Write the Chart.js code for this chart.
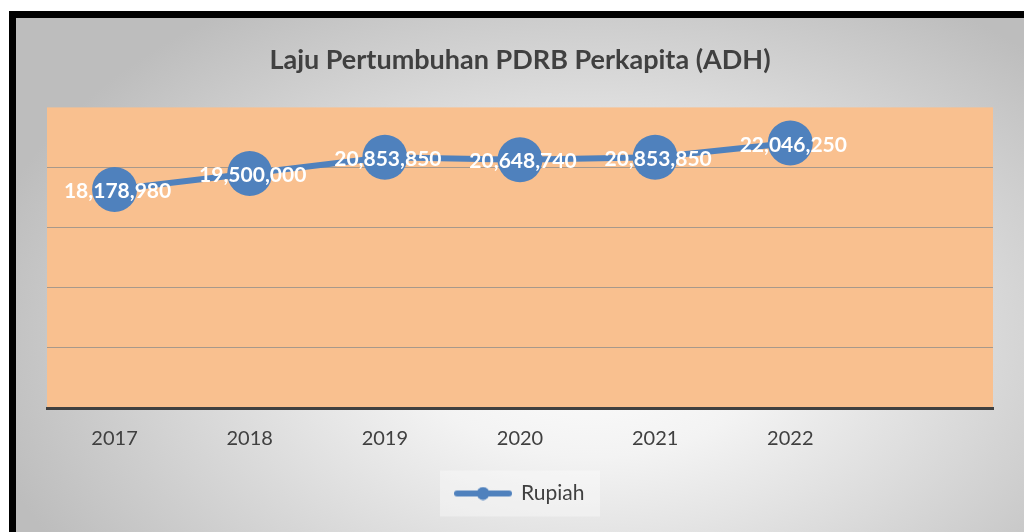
<!DOCTYPE html>
<html>
<head>
<meta charset="utf-8">
<script src="https://cdn.jsdelivr.net/npm/chart.js@4/dist/chart.umd.min.js"></script>
<style>
    html, body { margin: 0; padding: 0; background: #ffffff; }
    #frame {
        position: absolute;
        left: 9px;
        top: 11px;
        width: 1008px;
        height: 514px;
        border-top: 7px solid #000;
        border-left: 7px solid #000;
        background: radial-gradient(ellipse 62% 78% at 57% 62%, #ffffff 0%, #f3f3f3 30%, #bdbdbd 100%);
    }
    #frame canvas { display: block; }
</style>
</head>
<body>
<div id="frame"><canvas id="pdrbChart"></canvas></div>
<script>
// data
const years = ['2017', '2018', '2019', '2020', '2021', '2022', ''];
const rupiah = [18178980, 19500000, 20853850, 20648740, 20853850, 22046250];
const seriesName = 'Rupiah';
const chartTitle = 'Laju Pertumbuhan PDRB Perkapita (ADH)';

const blue = '#4F81BD';
const textGray = '#404040';

// small line + dot used as the legend mark
function makeLegendMark() {
    const c = document.createElement('canvas');
    c.width = 58;
    c.height = 14;
    const g = c.getContext('2d');
    g.strokeStyle = blue;
    g.lineWidth = 6;
    g.lineCap = 'round';
    g.beginPath();
    g.moveTo(3, 7);
    g.lineTo(55, 7);
    g.stroke();
    g.fillStyle = blue;
    g.beginPath();
    g.arc(29, 7, 6.5, 0, Math.PI * 2);
    g.fill();
    return c;
}
const legendMark = makeLegendMark();

// orange plot area + pale legend box
const backdrop = {
    id: 'backdrop',
    beforeDraw(chart) {
        const { ctx, chartArea } = chart;
        ctx.save();
        ctx.fillStyle = '#F9C08F';
        ctx.fillRect(chartArea.left, chartArea.top, chartArea.right - chartArea.left, chartArea.bottom - chartArea.top);
        const lg = chart.legend;
        if (lg) {
            const cx = (lg.left + lg.right) / 2;
            const cy = lg.top + lg.options.labels.padding + 10.5;
            ctx.fillStyle = 'rgba(255,255,255,0.35)';
            ctx.fillRect(cx - 80, cy - 23, 160, 46);
        }
        ctx.restore();
    }
};

// white value labels on top of the markers
const valueLabels = {
    id: 'valueLabels',
    afterDatasetsDraw(chart) {
        const ctx = chart.ctx;
        const meta = chart.getDatasetMeta(0);
        ctx.save();
        ctx.font = 'bold 21px Lato';
        ctx.fillStyle = '#ffffff';
        ctx.textAlign = 'center';
        ctx.textBaseline = 'middle';
        meta.data.forEach((pt, i) => {
            ctx.fillText(rupiah[i].toLocaleString('en-US'), pt.x + 3, pt.y + 2);
        });
        ctx.restore();
    }
};

function initChart() {
    const ctx = document.getElementById('pdrbChart').getContext('2d');
    new Chart(ctx, {
        type: 'line',
        data: {
            labels: years,
            datasets: [{
                label: seriesName,
                data: rupiah,
                borderColor: blue,
                backgroundColor: blue,
                borderWidth: 6,
                tension: 0,
                pointRadius: 22.5,
                pointHoverRadius: 22.5,
                pointBackgroundColor: blue,
                pointBorderWidth: 0
            }]
        },
        options: {
            responsive: true,
            maintainAspectRatio: false,
            animation: false,
            layout: {
                padding: { left: 31, right: 31, top: 0, bottom: 18 }
            },
            scales: {
                x: {
                    offset: true,
                    grid: { display: false, drawTicks: false },
                    border: { color: textGray, width: 3 },
                    ticks: {
                        color: textGray,
                        padding: 19,
                        font: { family: 'Lato', size: 20 }
                    }
                },
                y: {
                    min: 0,
                    max: 25000000,
                    ticks: { display: false, stepSize: 5000000 },
                    grid: {
                        drawTicks: false,
                        lineWidth: 1,
                        color: c => (c.tick && (c.tick.value === 0 || c.tick.value === 25000000)) ? 'rgba(0,0,0,0)' : '#A8998B'
                    },
                    border: { display: false }
                }
            },
            plugins: {
                title: {
                    display: true,
                    text: chartTitle,
                    color: textGray,
                    font: { family: 'Lato', size: 27, weight: 'bold' },
                    padding: { top: 26, bottom: 31 }
                },
                legend: {
                    position: 'bottom',
                    labels: {
                        usePointStyle: true,
                        pointStyleWidth: 55,
                        padding: 13,
                        color: textGray,
                        font: { family: 'Lato', size: 21 },
                        generateLabels: () => [{
                            text: seriesName,
                            pointStyle: legendMark,
                            fillStyle: blue,
                            strokeStyle: blue,
                            lineWidth: 0,
                            hidden: false,
                            datasetIndex: 0,
                            fontColor: textGray
                        }]
                    }
                },
                tooltip: { enabled: false }
            }
        },
        plugins: [backdrop, valueLabels]
    });
}

initChart();
</script>
</body>
</html>
